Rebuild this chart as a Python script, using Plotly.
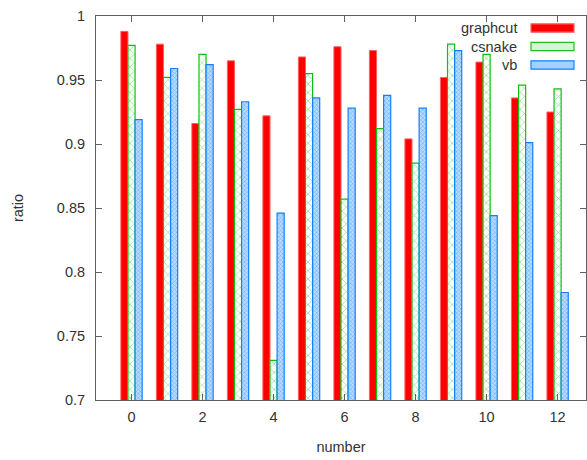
import plotly.graph_objects as go

numbers = list(range(13))
graphcut = [0.988, 0.978, 0.916, 0.965, 0.922, 0.968, 0.976, 0.973, 0.904, 0.952, 0.964, 0.936, 0.925]
csnake   = [0.977, 0.952, 0.970, 0.927, 0.731, 0.955, 0.857, 0.912, 0.885, 0.978, 0.970, 0.946, 0.943]
vb       = [0.919, 0.959, 0.962, 0.933, 0.846, 0.936, 0.928, 0.938, 0.928, 0.973, 0.844, 0.901, 0.784]
series_names = ["graphcut", "csnake", "vb"]

FONT = "Liberation Sans, Arial, sans-serif"
TXT = "#333333"
FS = 14.5

fig = go.Figure()
fig.add_trace(go.Bar(
    x=numbers, y=graphcut, name=series_names[0],
    marker=dict(color="#ff0000", line=dict(color="#ff6060", width=1)),
))
fig.add_trace(go.Bar(
    x=numbers, y=csnake, name=series_names[1],
    marker=dict(color="#ffffff", line=dict(color="#10c010", width=1.2),
                pattern=dict(shape="x", fgcolor="#30c030", bgcolor="#ffffff",
                             size=6, solidity=0.25)),
))
fig.add_trace(go.Bar(
    x=numbers, y=vb, name=series_names[2],
    marker=dict(color="#a0ccff", line=dict(color="#1080ff", width=1.2),
                pattern=dict(shape="x", fgcolor="#2a8cff", bgcolor="#b8dcff",
                             size=3, solidity=0.4)),
))

axis_common = dict(
    showline=True, linecolor="#606060", linewidth=1, mirror="ticks",
    ticks="inside", tickcolor="#606060", ticklen=6, tickwidth=1,
    showgrid=False, zeroline=False,
    tickfont=dict(family=FONT, size=FS, color=TXT),
)

# legend drawn gnuplot-style: text on the left, swatch on the right
swatch_styles = [
    dict(fill="#ff0000", line="#ff6060"),
    dict(fill="#d6f5d6", line="#20c020"),
    dict(fill="#a8d0ff", line="#1080ff"),
]
shapes = []
annotations = []
plot_top, plot_bottom = 16, 400
plot_h = plot_bottom - plot_top
for i, (nm, st) in enumerate(zip(series_names, swatch_styles)):
    yc_px = 28 + i * 18.5
    yc = 1 - (yc_px - plot_top) / plot_h
    half = 4.2 / plot_h
    shapes.append(dict(type="rect", xref="paper", yref="paper",
                       x0=(531 - 96) / 490, x1=(574 - 96) / 490,
                       y0=yc - half, y1=yc + half,
                       fillcolor=st["fill"], line=dict(color=st["line"], width=1.2)))
    annotations.append(dict(xref="paper", yref="paper", x=(519 - 96) / 490, y=yc,
                            xanchor="right", yanchor="middle", showarrow=False,
                            text=nm, font=dict(family=FONT, size=FS, color=TXT)))

fig.update_layout(
    width=587, height=460,
    margin=dict(l=96, r=1, t=16, b=60),
    paper_bgcolor="white", plot_bgcolor="white",
    barmode="group", bargap=0.4, bargroupgap=0.0,
    font=dict(family=FONT, size=FS, color=TXT),
    xaxis=dict(range=[-1.0, 12.8], tickmode="array", tickvals=[0, 2, 4, 6, 8, 10, 12],
               ticklabelstandoff=4,
               title=dict(text="number", standoff=17, font=dict(size=FS)), **axis_common),
    yaxis=dict(range=[0.7, 1.0], tickmode="array",
               tickvals=[0.7, 0.75, 0.8, 0.85, 0.9, 0.95, 1.0],
               ticktext=["0.7", "0.75", "0.8", "0.85", "0.9", "0.95", "1"],
               ticklabelstandoff=7,
               title=dict(text="ratio", standoff=29, font=dict(size=FS)), **axis_common),
    showlegend=False,
    shapes=shapes,
    annotations=annotations,
)

fig.write_html("out.html")
